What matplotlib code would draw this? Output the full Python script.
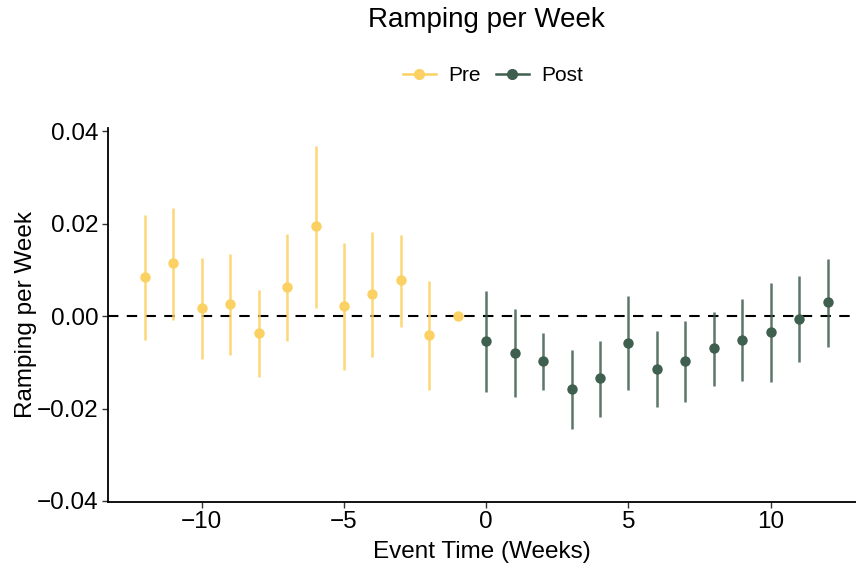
import numpy as np
import matplotlib.pyplot as plt
from matplotlib.lines import Line2D

plt.rcParams['font.family'] = ['Liberation Sans', 'DejaVu Sans']

# Pre period
pre_t = [-12, -11, -10, -9, -8, -7, -6, -5, -4, -3, -2, -1]
pre_est = [0.0084, 0.0115, 0.0017, 0.0026, -0.0037, 0.0063, 0.0195, 0.0022, 0.0048, 0.0078, -0.0041, 0.0]
pre_lo = [-0.0052, -0.0009, -0.0093, -0.0084, -0.0132, -0.0054, 0.0017, -0.0117, -0.0089, -0.0024, -0.0160, 0.0]
pre_hi = [0.0218, 0.0234, 0.0125, 0.0134, 0.0056, 0.0177, 0.0368, 0.0158, 0.0182, 0.0175, 0.0076, 0.0]

# Post period
post_t = [0, 1, 2, 3, 4, 5, 6, 7, 8, 9, 10, 11, 12]
post_est = [-0.0054, -0.0080, -0.0097, -0.0158, -0.0134, -0.0058, -0.0115, -0.0097, -0.0069, -0.0052, -0.0035, -0.0006, 0.0030]
post_lo = [-0.0164, -0.0175, -0.0160, -0.0244, -0.0218, -0.0160, -0.0197, -0.0186, -0.0151, -0.0140, -0.0143, -0.0099, -0.0067]
post_hi = [0.0054, 0.0015, -0.0037, -0.0074, -0.0054, 0.0043, -0.0032, -0.0011, 0.0009, 0.0037, 0.0071, 0.0086, 0.0123]

pre_col = '#FCD163'
post_col = '#3F5F4F'

fig = plt.figure(figsize=(8.56, 5.71), dpi=100)
ax = fig.add_axes([0.126, 0.121, 0.874, 0.655])

def draw(t, est, lo, hi, col):
    t = np.array(t)
    est = np.array(est)
    lo = np.array(lo)
    hi = np.array(hi)
    ax.vlines(t, lo, hi, color=col, lw=1.8, alpha=0.85, zorder=2)
    ax.plot(t, est, 'o', color=col, ms=7.5, mec='none', zorder=3)

ax.axhline(0, color='black', lw=1.5, ls=(0, (5, 4)), zorder=1)
draw(pre_t, pre_est, pre_lo, pre_hi, pre_col)
draw(post_t, post_est, post_lo, post_hi, post_col)

ax.set_xlim(-13.3, 13.0)
ax.set_ylim(-0.0402, 0.0407)
ax.set_xticks([-10, -5, 0, 5, 10])
ax.set_xticklabels(['\u221210', '\u22125', '0', '5', '10'])
ax.set_yticks([-0.04, -0.02, 0.0, 0.02, 0.04])
ax.set_yticklabels(['\u22120.04', '\u22120.02', '0.00', '0.02', '0.04'])
ax.tick_params(labelsize=17.5, length=4, width=1, color='#333333', labelcolor='black', pad=2.5)

for s in ['top', 'right']:
    ax.spines[s].set_visible(False)
for s in ['left', 'bottom']:
    ax.spines[s].set_linewidth(1.3)

ax.set_xlabel('Event Time (Weeks)', fontsize=17.5, labelpad=6)
ax.set_ylabel('Ramping per Week', fontsize=17.5, labelpad=0)

fig.suptitle('Ramping per Week', fontsize=20, x=0.568, y=0.988)

handles = [Line2D([0], [0], color=pre_col, marker='o', ms=7, lw=1.8),
           Line2D([0], [0], color=post_col, marker='o', ms=7, lw=1.8)]
fig.legend(handles, ['Pre', 'Post'], loc='center', bbox_to_anchor=(0.576, 0.868),
           ncol=2, frameon=False, fontsize=15, handlelength=1.6, columnspacing=0.7,
           handletextpad=0.6)

fig.savefig('out.png', dpi=100)
